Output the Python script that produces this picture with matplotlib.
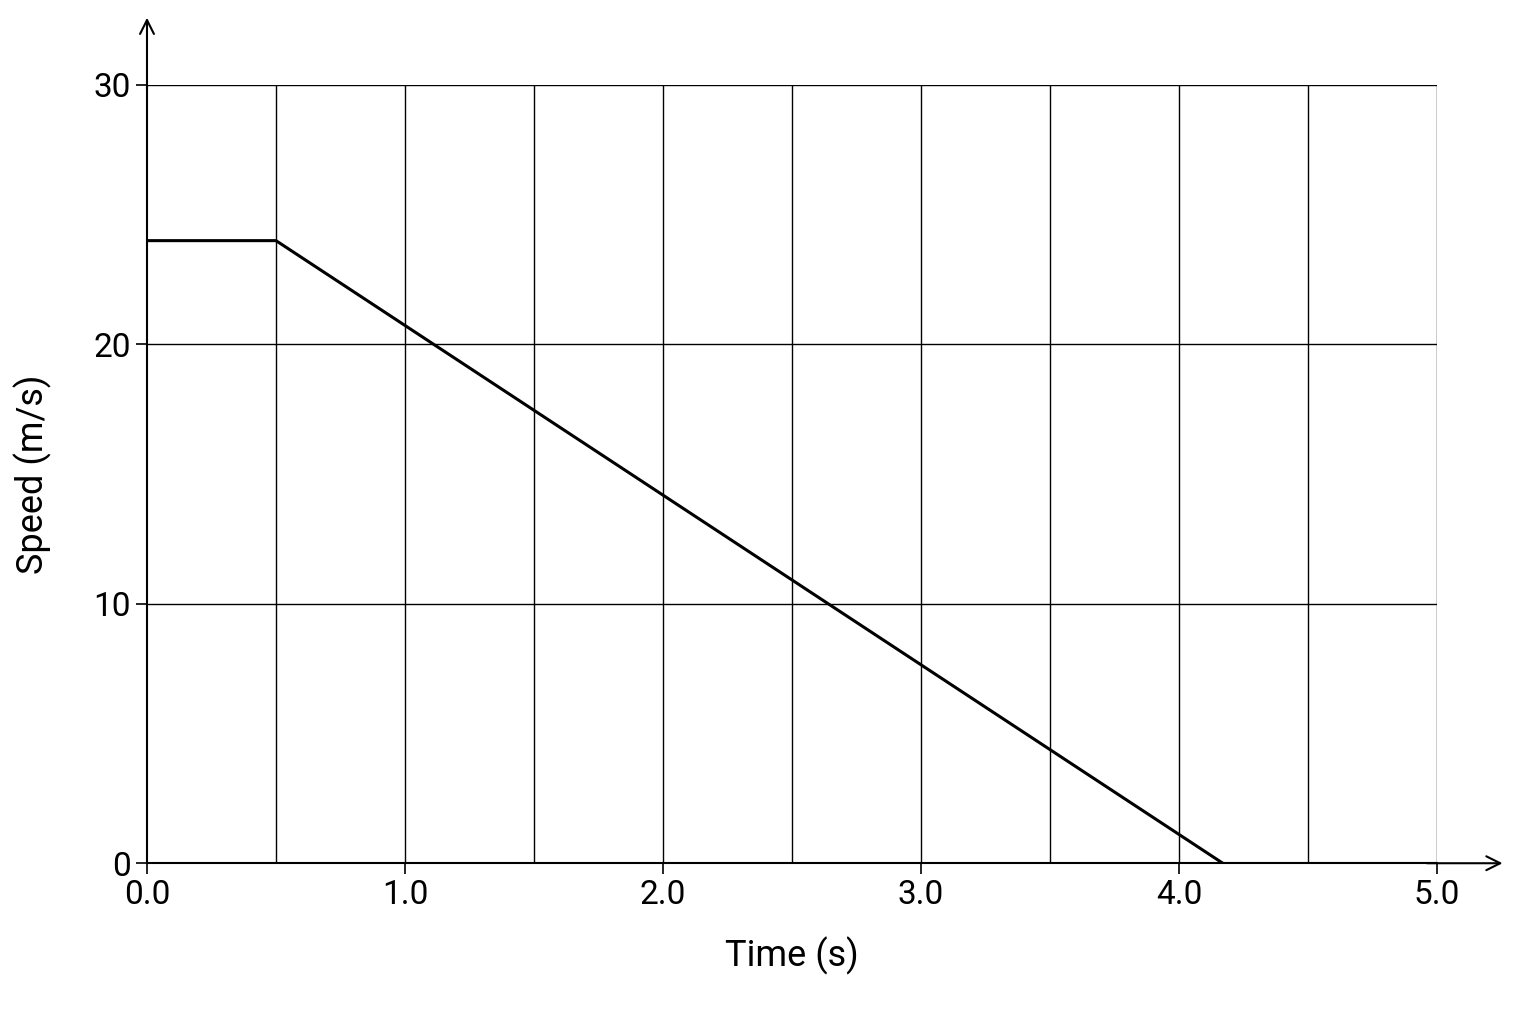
import matplotlib
matplotlib.use('Agg')
import matplotlib.pyplot as plt

time_s = [0.0, 0.5, 4.17]
speed_ms = [24.0, 24.0, 0.0]
x_ticks = [0.0, 1.0, 2.0, 3.0, 4.0, 5.0]
x_grid = [0.5, 1.0, 1.5, 2.0, 2.5, 3.0, 3.5, 4.0, 4.5, 5.0]
y_ticks = [0, 10, 20, 30]

plt.rcParams['font.family'] = ['Roboto', 'DejaVu Sans']
fig = plt.figure(figsize=(15.36, 10.24), dpi=100)
ax = fig.add_axes([0.0957, 0.157, 0.8398, 0.760])

for x in x_grid:
    ax.axvline(x, color='black', lw=1.0)
for y in y_ticks[1:]:
    ax.axhline(y, color='black', lw=1.0)

ax.plot(time_s, speed_ms, color='black', lw=2.2)
ax.plot([time_s[-1], 5.0], [0, 0], color='black', lw=2.2)

ax.set_xlim(0, 5)
ax.set_ylim(0, 30)
ax.set_xticks(x_ticks)
ax.set_xticklabels([f'{v:.1f}' for v in x_ticks])
ax.set_yticks(y_ticks)
ax.tick_params(labelsize=24, length=8, width=1.2)
for s in ['top', 'right']:
    ax.spines[s].set_visible(False)
for s in ['left', 'bottom']:
    ax.spines[s].set_linewidth(1.5)

ax.annotate('', xy=(0, 1.09), xytext=(0, 0.99), xycoords='axes fraction',
            arrowprops=dict(arrowstyle='->', lw=1.5, mutation_scale=25))
ax.annotate('', xy=(1.053, 0), xytext=(0.99, 0), xycoords='axes fraction',
            arrowprops=dict(arrowstyle='->', lw=1.5, mutation_scale=25))

ax.set_xlabel('Time (s)', fontsize=26, labelpad=18)
ax.set_ylabel('Speed (m/s)', fontsize=26, labelpad=30)

fig.savefig('out.png', dpi=100, facecolor='white')
